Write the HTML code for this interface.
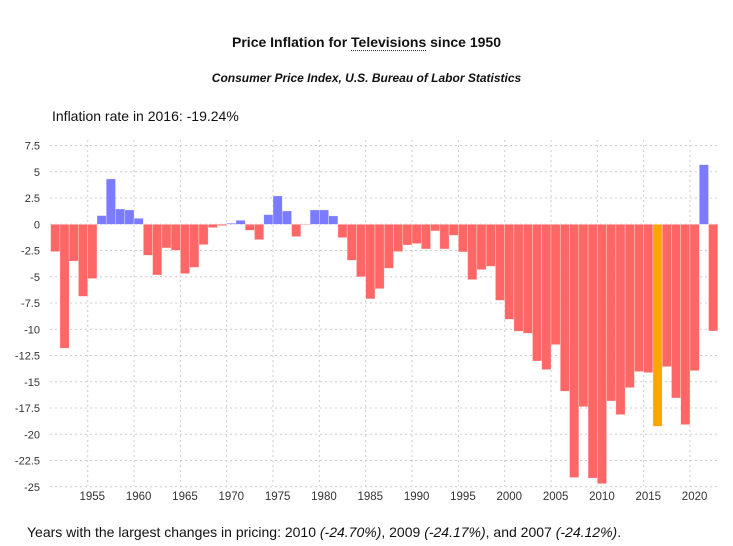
<!DOCTYPE html>
<html><head><meta charset="utf-8"><style>
body{margin:0;width:733px;height:546px;background:#fff;font-family:"Liberation Sans",sans-serif;color:#111;position:relative;overflow:hidden}
.t{position:absolute;white-space:nowrap}
</style></head><body>
<div class="t" style="left:0;width:733px;text-align:center;top:34px;font-size:14px;font-weight:bold">Price Inflation for <span style="border-bottom:1px dotted #333">Televisions</span> since 1950</div>
<div class="t" style="left:0;width:733px;text-align:center;top:71px;font-size:12px;font-weight:bold;font-style:italic">Consumer Price Index, U.S. Bureau of Labor Statistics</div>
<div class="t" style="left:52px;top:108px;font-size:14px">Inflation rate in 2016: -19.24%</div>
<svg width="733" height="546" style="position:absolute;left:0;top:0" id="chart"></svg>
<div class="t" style="left:27px;top:524px;font-size:14px">Years with the largest changes in pricing: 2010 <i>(-24.70%)</i>, 2009 <i>(-24.17%)</i>, and 2007 <i>(-24.12%)</i>.</div>
<script>
const years=[];for(let y=1951;y<=2022;y++)years.push(y);
const values=[-2.6,-11.8,-3.5,-6.86,-5.17,0.83,4.32,1.46,1.37,0.57,-2.95,-4.83,-2.25,-2.48,-4.7,-4.1,-1.94,-0.32,-0.13,0.1,0.38,-0.57,-1.46,0.92,2.7,1.27,-1.17,-0.06,1.37,1.37,0.8,-1.27,-3.43,-5.0,-7.1,-6.13,-4.19,-2.6,-1.97,-1.84,-2.35,-0.63,-2.35,-1.05,-2.63,-5.27,-4.32,-4.0,-7.24,-9.05,-10.19,-10.38,-13.02,-13.84,-11.46,-15.9,-24.12,-17.37,-24.17,-24.70,-16.83,-18.13,-15.56,-14.03,-14.13,-19.24,-13.56,-16.54,-19.08,-13.94,5.68,-10.16];
const yTicks=[7.5,5,2.5,0,-2.5,-5,-7.5,-10,-12.5,-15,-17.5,-20,-22.5,-25];
const yTickLabels=["7.5","5","2.5","0","-2.5","-5","-7.5","-10","-12.5","-15","-17.5","-20","-22.5","-25"];
const xTicks=[1955,1960,1965,1970,1975,1980,1985,1990,1995,2000,2005,2010,2015,2020];
const highlightYear=2016;
const NS="http://www.w3.org/2000/svg",svg=document.getElementById('chart');
const X=y=>690+(y-2020)*9.266;
const Y=v=>224.3-v*10.5;
function el(t,a){const e=document.createElementNS(NS,t);for(const k in a)e.setAttribute(k,a[k]);svg.appendChild(e);return e;}
yTicks.forEach((v,i)=>{
 const g=el('line',{x1:50,x2:718,y1:Y(v),y2:Y(v),stroke:'#ccc','stroke-dasharray':'2,3'});
 
 
 const t=el('text',{x:40,y:Y(v)+4,'text-anchor':'end','font-size':11,fill:'#333','font-family':'Liberation Sans, sans-serif'});
 t.textContent=yTickLabels[i];
 
 
});
xTicks.forEach(yr=>{
 const g=el('line',{x1:X(yr),x2:X(yr),y1:140,y2:486,stroke:'#ccc','stroke-dasharray':'2,3'});
 
 
 const t=el('text',{x:X(yr)+4.6,y:500,'text-anchor':'middle','font-size':11.5,fill:'#333','font-family':'Liberation Sans, sans-serif'});
 t.textContent=yr;
 
 
});
years.forEach((yr,i)=>{
 const v=values[i];
 const c=yr===highlightYear?'#ffa500':(v>=0?'#7b7bff':'#ff6666');
 const y0=Math.min(Y(0),Y(v)),h=Math.abs(Y(v)-Y(0));
 const r=el('rect',{x:X(yr),y:y0,width:9.266,height:Math.max(h,0.5),fill:c,stroke:'#fff','stroke-opacity':0.5,'stroke-width':0.6});
 
 
});
</script>
</body></html>
